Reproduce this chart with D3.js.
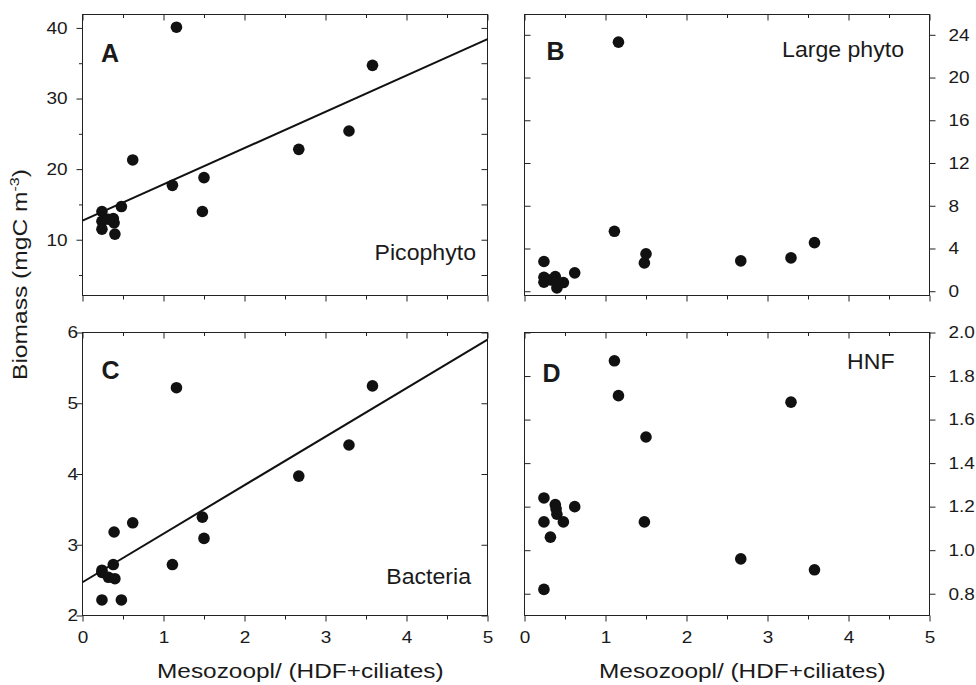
<!DOCTYPE html>
<html>
<head>
<meta charset="utf-8">
<script src="https://cdn.jsdelivr.net/npm/d3@7"></script>
<style>
  html, body { margin: 0; padding: 0; background: #fff; }
  svg { display: block; }
  text { font-family: "Liberation Sans", Arial, Helvetica, sans-serif; fill: #1a1a1a; }
</style>
</head>
<body>
<svg id="chart" width="976" height="685"></svg>
<script>
// ---------------- data ----------------
const ratioX   = [0.24, 0.24, 0.24, 0.32, 0.38, 0.39, 0.40, 0.48, 0.62, 1.11, 1.16, 1.48, 1.50, 2.67, 3.29, 3.58];
const picoY    = [14.0, 12.6, 11.5, 12.9, 13.0, 12.4, 10.8, 14.7, 21.3, 17.7, 40.1, 14.0, 18.8, 22.8, 25.4, 34.7];
const largeY   = [2.78, 1.31, 0.84, 1.06, 1.37, 0.84, 0.31, 0.81, 1.72, 5.61, 23.31, 2.65, 3.50, 2.84, 3.12, 4.55];
const bactY    = [2.64, 2.61, 2.22, 2.54, 2.72, 3.18, 2.52, 2.22, 3.31, 2.72, 5.22, 3.39, 3.09, 3.97, 4.41, 5.245];
const hnfY     = [1.24, 1.13, 0.82, 1.06, 1.21, 1.19, 1.165, 1.13, 1.20, 1.87, 1.71, 1.13, 1.52, 0.96, 1.68, 0.91];
const fitX     = [0, 5];
const picoFit  = [12.7, 38.4];
const bactFit  = [2.47, 5.90];
const xMajor   = [0, 1, 2, 3, 4, 5];
const xMinor   = [0.5, 1.5, 2.5, 3.5, 4.5];
const picoMajor = [10, 20, 30, 40];
const picoMinor = [5, 15, 25, 35];
const largeTicks = [0, 4, 8, 12, 16, 20, 24];
const bactTicks  = [2, 3, 4, 5, 6];
const hnfTicks   = [0.8, 1.0, 1.2, 1.4, 1.6, 1.8, 2.0];
const panelLetters = ["A", "B", "C", "D"];
const panelNames   = ["Picophyto", "Large phyto", "Bacteria", "HNF"];
const xTitle = "Mesozoopl/ (HDF+ciliates)";

// ---------------- layout ----------------
const svg = d3.select("#chart");
const TS = 1.15;   // horizontal stretch of tick labels
const colL = [82.5, 487.5], colR = [524.5, 929.5];
const rowT = [14.5, 295.5], rowB = [332.5, 615.5];

const panels = [
  { box: [colL, rowT], yDom: [2.1, 41.9], ys: picoY, fit: picoFit, side: "left",
    major: picoMajor, minor: picoMinor, fmt: d3.format("d"), xLabels: false,
    letter: [101, 62], name: [476, 260], pad: 9 },
  { box: [colR, rowT], yDom: [-0.4, 25.9], ys: largeY, fit: null, side: "right",
    major: largeTicks, minor: [], fmt: d3.format("d"), xLabels: false,
    letter: [546.5, 60], name: [904, 57], pad: 13 },
  { box: [colL, rowB], yDom: [2, 6], ys: bactY, fit: bactFit, side: "left",
    major: bactTicks, minor: [], fmt: d3.format("d"), xLabels: true,
    letter: [101.5, 378.5], name: [471, 583.5], pad: -1.5 },
  { box: [colR, rowB], yDom: [0.7, 2.0], ys: hnfY, fit: null, side: "right",
    major: hnfTicks, minor: [], fmt: d3.format(".1f"), xLabels: true,
    letter: [542.5, 381.5], name: [894.5, 368.5], pad: 13 }
];

function stretchText(sel, s) {
  sel.each(function () {
    const t = d3.select(this);
    const x = t.attr("x");
    if (x !== null) t.attr("x", (+x) / s);
    t.attr("transform", `scale(${s},1)`);
  });
}

function styleAxis(g) {
  g.select(".domain").remove();
  g.selectAll(".tick line").attr("stroke", "#222").attr("stroke-width", 1);
  g.selectAll(".tick text").attr("font-size", 16.5).attr("fill", "#1a1a1a")
    .attr("font-family", '"Liberation Sans", Arial, Helvetica, sans-serif');
}

panels.forEach((p, i) => {
  const [[L, R], [T, B]] = p.box;
  const x = d3.scaleLinear().domain([0, 5]).range([L, R]);
  const y = d3.scaleLinear().domain(p.yDom).range([B, T]);
  const g = svg.append("g");

  // bottom (outward) major + minor
  const gb = g.append("g").attr("transform", `translate(0,${B})`)
    .call(d3.axisBottom(x).tickValues(xMajor).tickSize(6).tickPadding(9.5)
      .tickFormat(p.xLabels ? d3.format("d") : () => ""));
  styleAxis(gb); stretchText(gb.selectAll(".tick text"), TS);
  const gbm = g.append("g").attr("transform", `translate(0,${B})`)
    .call(d3.axisBottom(x).tickValues(xMinor).tickSize(4).tickFormat(() => ""));
  styleAxis(gbm);
  // top (inward)
  const gt = g.append("g").attr("transform", `translate(0,${T})`)
    .call(d3.axisTop(x).tickValues(xMajor).tickSize(-6).tickFormat(() => ""));
  styleAxis(gt);
  const gtm = g.append("g").attr("transform", `translate(0,${T})`)
    .call(d3.axisTop(x).tickValues(xMinor).tickSize(-3.5).tickFormat(() => ""));
  styleAxis(gtm);

  // y axes
  const outAxis = p.side === "left" ? d3.axisLeft(y) : d3.axisRight(y);
  const inAxis  = p.side === "left" ? d3.axisRight(y) : d3.axisLeft(y);
  const outPos = p.side === "left" ? L : R;
  const inPos  = p.side === "left" ? R : L;
  const go = g.append("g").attr("transform", `translate(${outPos},0)`)
    .call(outAxis.tickValues(p.major).tickSize(6).tickPadding(p.pad).tickFormat(p.fmt));
  styleAxis(go); stretchText(go.selectAll(".tick text"), TS);
  if (p.minor.length) {
    const gom = g.append("g").attr("transform", `translate(${outPos},0)`)
      .call((p.side === "left" ? d3.axisLeft(y) : d3.axisRight(y))
        .tickValues(p.minor).tickSize(3.5).tickFormat(() => ""));
    styleAxis(gom);
  }
  const gi = g.append("g").attr("transform", `translate(${inPos},0)`)
    .call(inAxis.tickValues(p.major.concat(p.minor)).tickSize(-6).tickFormat(() => ""));
  styleAxis(gi);

  // frame
  g.append("rect").attr("x", L).attr("y", T).attr("width", R - L).attr("height", B - T)
    .attr("fill", "none").attr("stroke", "#222").attr("stroke-width", 1);

  // regression line
  if (p.fit) {
    const line = d3.line().x(d => x(d[0])).y(d => y(d[1]));
    g.append("path").datum(fitX.map((v, k) => [v, p.fit[k]]))
      .attr("d", line).attr("fill", "none").attr("stroke", "#111").attr("stroke-width", 2);
  }

  // points
  g.append("g").selectAll("circle").data(ratioX.map((v, k) => [v, p.ys[k]])).join("circle")
    .attr("cx", d => x(d[0])).attr("cy", d => y(d[1])).attr("r", 5.8).attr("fill", "#111");

  // panel letter
  g.append("text").attr("transform", `translate(${p.letter[0]},${p.letter[1]})`)
    .attr("font-size", 25).attr("font-weight", "bold").attr("fill", "#111").text(panelLetters[i]);
  // panel name
  g.append("text").attr("transform", `translate(${p.name[0]},${p.name[1]}) scale(1.05,1)`)
    .attr("text-anchor", "end").attr("font-size", 22).text(panelNames[i]);

  // x title
  if (p.xLabels) {
    g.append("text").attr("transform", `translate(${L + 74.5},678) scale(1.22,1)`)
      .attr("font-size", 20).text(xTitle);
  }
});

// y title
const yt = svg.append("text").attr("transform", "translate(26.5,380) rotate(-90) scale(1.23,1)")
  .attr("font-size", 20);
yt.append("tspan").text("Biomass (mgC m");
yt.append("tspan").attr("dy", -8).attr("font-size", 13).text("-3");
yt.append("tspan").attr("dy", 8).text(")");
</script>
</body>
</html>
